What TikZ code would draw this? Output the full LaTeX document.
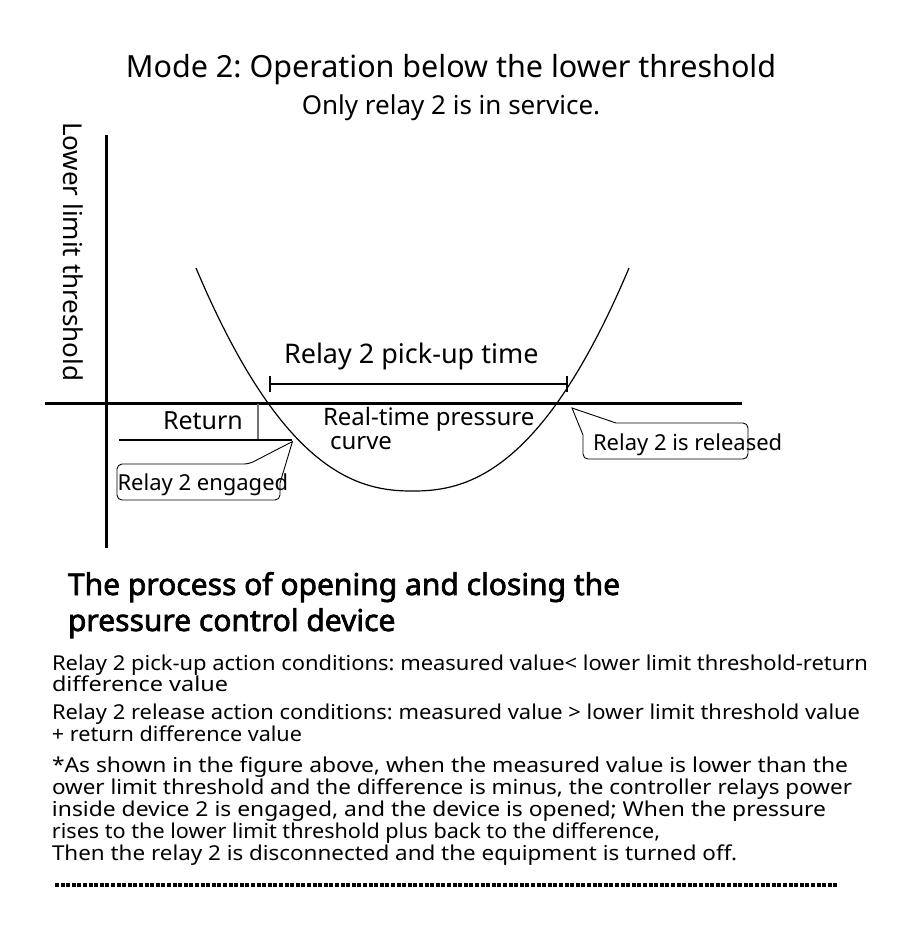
\documentclass[tikz,border=0pt]{standalone}
\usepackage{fontspec}
\usepackage{graphicx}
\setmainfont{Noto Sans}
\newfontfamily\headfont[FakeBold=2.2]{Noto Sans}
\newcommand\fitline[2]{\resizebox{#1}{\height}{#2}}
\frenchspacing
\begin{document}
\begin{tikzpicture}[x=1pt,y=-1pt,
  txt/.style={inner sep=0pt, outer sep=0pt, anchor=base west},
  fs/.style={font=\fontsize{#1}{#1}\selectfont},
  axisline/.style={line width=2.6pt, black},
  curveline/.style={line width=1.2pt, black},
  calloutline/.style={line width=0.9pt, black},
  barline/.style={line width=2.6pt, black},
  para/.style={txt, font=\fontsize{20.5}{20.5}\selectfont}]
\fill[white] (0,0) rectangle (900,946);
\useasboundingbox (0,0) rectangle (900,946);

% titles
\node[inner sep=0pt, anchor=base, fs=30.5] (title) at (451,77) {Mode 2: Operation below the lower threshold};
\node[inner sep=0pt, anchor=base, fs=26] (subtitle) at (451,114) {Only relay 2 is in service.};

% axes
\coordinate (vtop) at (106.5,135);
\coordinate (vbot) at (106.5,548);
\coordinate (hleft) at (45,403.5);
\coordinate (hright) at (742,403.5);
\draw[axisline] (vtop) -- (vbot);
\draw[axisline] (hleft) -- (hright);
\node[txt, rotate=-90, fs=26] (ylabel) at (63,122) {Lower limit threshold};

% curve
\draw[curveline] plot[domain=-216.5:216.5, samples=101, smooth] ({412.5+\x}, {491-88*pow(abs(\x)/144.5,2.3)});

% pick-up bar
\coordinate (barL) at (270,384);
\coordinate (barR) at (567,384);
\draw[barline] (barL) -- (barR);
\draw[line width=2.6pt] ([yshift=-8pt]barL) -- ([yshift=8pt]barL);
\draw[line width=2.6pt] ([yshift=-8pt]barR) -- ([yshift=8pt]barR);
\node[txt, fs=27] (pickup) at (284,363) {Relay 2 pick-up time};

% return
\node[txt, fs=25] (return) at (163,429) {Return};
\coordinate (rvtop) at (258,404);
\coordinate (rvbot) at (258,439);
\draw[line width=1.2pt, black!55] (rvtop) -- (rvbot);
\coordinate (rhL) at (119,440);
\coordinate (rhR) at (292,440);
\draw[line width=1.3pt] (rhL) -- (rhR);

\node[txt, fs=24] (rt1) at (323,425) {Real-time pressure};
\node[txt, fs=24] (rt2) at (330,449) {curve};

% callout engaged
\coordinate (tipA) at (292.5,441.5);
\draw[calloutline, rounded corners=5pt] (117,482) -- (117,464) -- (249,464) [sharp corners] -- (tipA) -- (280,483) [rounded corners=5pt] -- (280,500) -- (117,500) -- cycle;
\node[txt, fs=22] (engaged) at (117.5,490) {Relay 2 engaged};

% callout released
\coordinate (tipB) at (572,408);
\draw[calloutline, rounded corners=5pt] (583,440) [sharp corners] -- (583,435) -- (tipB) -- (616,423) [rounded corners=5pt] -- (748,423) -- (748,459) -- (583,459) -- cycle;
\node[txt, fs=22] (released) at (593,450) {Relay 2 is released};

% heading
\node[txt, font=\headfont\fontsize{30}{30}\selectfont] (head1) at (68,595) {The process of opening and closing the};
\node[txt, font=\headfont\fontsize{30}{30}\selectfont] (head2) at (68,631) {pressure control device};

% paragraph
\node[para] (p1) at (52,670) {\fitline{816pt}{Relay 2 pick-up action conditions: measured value< lower limit threshold-return}};
\node[para] (p2) at (52,691) {\fitline{176pt}{difference value}};
\node[para] (p3) at (52,719) {\fitline{808pt}{Relay 2 release action conditions: measured value > lower limit threshold value}};
\node[para] (p4) at (52,741) {\fitline{250pt}{+ return difference value}};
\node[para] (p5) at (52,772) {\fitline{796pt}{*As shown in the figure above, when the measured value is lower than the}};
\node[para] (p6) at (52,794) {\fitline{800pt}{ower limit threshold and the difference is minus, the controller relays power}};
\node[para] (p7) at (52,816) {\fitline{774pt}{inside device 2 is engaged, and the device is opened; When the pressure}};
\node[para] (p8) at (52,838) {\fitline{608pt}{rises to the lower limit threshold plus back to the difference,}};
\node[para] (p9) at (52,860) {\fitline{685pt}{Then the relay 2 is disconnected and the equipment is turned off.}};

% dashed rule
\coordinate (dL) at (55,885);
\coordinate (dR) at (838,885);
\draw[line width=3.2pt, dash pattern=on 4pt off 1.6pt] (dL) -- (dR);
\end{tikzpicture}
\end{document}
